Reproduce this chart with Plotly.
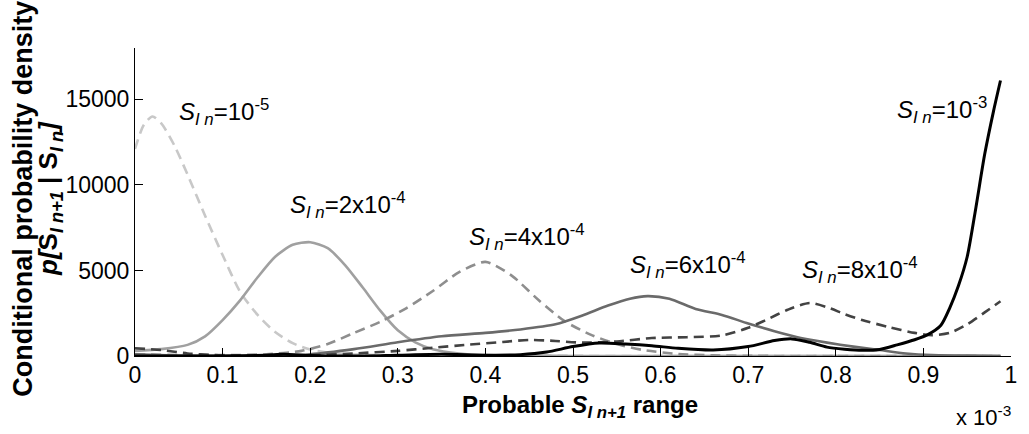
import plotly.graph_objects as go

# x values are in units of 1e-3 (see the "x 10^-3" axis multiplier)
x_1e5 = [0, 0.01, 0.02, 0.03, 0.045, 0.06, 0.08, 0.1, 0.12, 0.14, 0.16, 0.18, 0.2, 0.22, 0.25, 0.3,
         0.4, 0.5, 0.6, 0.7, 0.8, 0.9, 0.988]
y_1e5 = [12100, 13500, 14000, 13600, 12300, 10600, 8200, 5900, 3750, 2400, 1400, 750, 380, 200, 90, 30,
         10, 5, 0, 0, 0, 0, 0]

x_2e4 = [0, 0.03, 0.06, 0.08, 0.1, 0.12, 0.14, 0.16, 0.18, 0.2, 0.22, 0.24, 0.26, 0.28, 0.3, 0.32,
         0.34, 0.37, 0.4, 0.45, 0.5, 0.6, 0.7, 0.8, 0.9, 0.988]
y_2e4 = [300, 400, 650, 1150, 2100, 3250, 4600, 5800, 6500, 6650, 6300, 5300, 4000, 2650, 1500, 800,
         400, 150, 50, 20, 0, 0, 0, 0, 0, 0]

x_4e4 = [0, 0.05, 0.1, 0.15, 0.19, 0.22, 0.25, 0.28, 0.31, 0.34, 0.37, 0.4, 0.43, 0.46, 0.49, 0.52,
         0.55, 0.58, 0.62, 0.66, 0.7, 0.8, 0.9, 0.988]
y_4e4 = [100, 60, 50, 100, 300, 700, 1350, 2000, 2800, 3800, 4900, 5500, 4700, 3300, 2050, 1250,
         700, 350, 120, 40, 10, 0, 0, 0]

x_6e4 = [0, 0.05, 0.1, 0.15, 0.2, 0.25, 0.3, 0.35, 0.4, 0.44, 0.48, 0.51, 0.54, 0.565, 0.585, 0.61,
         0.64, 0.67, 0.7, 0.73, 0.76, 0.79, 0.82, 0.85, 0.88, 0.91, 0.95, 0.988]
y_6e4 = [100, 30, 10, 20, 100, 400, 800, 1150, 1350, 1550, 1850, 2350, 2950, 3350, 3500, 3350,
         2750, 2400, 1900, 1450, 1050, 780, 550, 350, 150, 50, 20, 0]

x_8e4 = [0, 0.03, 0.06, 0.09, 0.12, 0.16, 0.2, 0.25, 0.3, 0.34, 0.38, 0.42, 0.45, 0.48, 0.51, 0.55,
         0.59, 0.63, 0.67, 0.7, 0.72, 0.745, 0.77, 0.79, 0.81, 0.83, 0.86, 0.89, 0.91, 0.93, 0.95,
         0.97, 0.988]
y_8e4 = [450, 350, 150, 50, 20, 20, 50, 150, 300, 480, 660, 820, 940, 880, 780, 850,
         1050, 1100, 1200, 1650, 2100, 2700, 3100, 2850, 2450, 2100, 1700, 1350, 1220, 1350, 1850,
         2550, 3200]

x_1e3 = [0, 0.05, 0.1, 0.15, 0.17, 0.2, 0.25, 0.3, 0.35, 0.4, 0.44, 0.47, 0.5, 0.53, 0.56, 0.59,
         0.62, 0.66, 0.7, 0.73, 0.75, 0.77, 0.79, 0.81, 0.83, 0.85, 0.87, 0.89, 0.905, 0.92, 0.93,
         0.94, 0.95, 0.96, 0.97, 0.98, 0.988]
y_1e3 = [0, 0, 0, 50, 100, 30, 0, 50, 100, 50, 80, 230, 550, 760, 700, 600,
         450, 350, 550, 900, 1000, 800, 520, 400, 330, 380, 650, 950, 1250, 1800, 2800,
         4100, 5800, 8700, 11800, 14300, 16100]

x_ticks = [0, 0.1, 0.2, 0.3, 0.4, 0.5, 0.6, 0.7, 0.8, 0.9, 1]
x_tick_text = ["0", "0.1", "0.2", "0.3", "0.4", "0.5", "0.6", "0.7", "0.8", "0.9", "1"]
y_ticks = [0, 5000, 10000, 15000]

labels = [
    ("<i>S</i><sub><i>I n</i></sub>=10<sup>-5</sup>", 0.048, 14270),
    ("<i>S</i><sub><i>I n</i></sub>=2x10<sup>-4</sup>", 0.175, 8830),
    ("<i>S</i><sub><i>I n</i></sub>=4x10<sup>-4</sup>", 0.379, 6960),
    ("<i>S</i><sub><i>I n</i></sub>=6x10<sup>-4</sup>", 0.563, 5320),
    ("<i>S</i><sub><i>I n</i></sub>=8x10<sup>-4</sup>", 0.759, 5030),
    ("<i>S</i><sub><i>I n</i></sub>=10<sup>-3</sup>", 0.868, 14390),
]

FONT = "Liberation Sans, Arial, sans-serif"

series = [
    (x_1e5, y_1e5, "#c8c8c8", 2.6, "10px,6px"),
    (x_2e4, y_2e4, "#a0a0a0", 2.6, "solid"),
    (x_4e4, y_4e4, "#8e8e8e", 2.6, "10px,6px"),
    (x_6e4, y_6e4, "#6a6a6a", 2.6, "solid"),
    (x_8e4, y_8e4, "#424242", 2.6, "10px,6px"),
    (x_1e3, y_1e3, "#000000", 3.0, "solid"),
]

fig = go.Figure()
for xs, ys, color, width, dash in series:
    fig.add_trace(go.Scatter(
        x=xs, y=ys, mode="lines",
        line=dict(color=color, width=width, dash=dash, shape="spline", smoothing=0.7),
        showlegend=False, hoverinfo="skip",
    ))

for text, lx, ly in labels:
    fig.add_annotation(x=lx, y=ly, xref="x", yref="y", text=text, showarrow=False,
                       xanchor="left", yanchor="middle",
                       font=dict(family=FONT, size=24, color="black"))

# y-axis title, two stacked rotated lines
fig.add_annotation(x=-0.128, y=0.51, xref="paper", yref="paper", textangle=-90,
                   text="<b>Conditional probability density</b>", showarrow=False,
                   xanchor="center", yanchor="middle",
                   font=dict(family=FONT, size=27, color="black"))
fig.add_annotation(x=-0.097, y=0.51, xref="paper", yref="paper", textangle=-90,
                   text="<b><i>p[</i>S<sub><i>I n+1</i></sub> | S<sub><i>I n</i></sub><i>]</i></b>",
                   showarrow=False, xanchor="center", yanchor="middle",
                   font=dict(family=FONT, size=26, color="black"))

# x-axis title
fig.add_annotation(x=0.508, y=-0.165, xref="paper", yref="paper",
                   text="<b>Probable <i>S</i><sub><i>I n+1</i></sub> range</b>",
                   showarrow=False, xanchor="center", yanchor="middle",
                   font=dict(family=FONT, size=24, color="black"))

# axis multiplier
fig.add_annotation(x=1.002, y=-0.195, xref="paper", yref="paper",
                   text="x 10<sup>-3</sup>", showarrow=False,
                   xanchor="right", yanchor="middle",
                   font=dict(family=FONT, size=22, color="black"))

fig.update_layout(
    width=1029, height=434,
    margin=dict(l=135, r=12, t=48, b=78),
    paper_bgcolor="white", plot_bgcolor="white",
    font=dict(family=FONT, size=23, color="black"),
    xaxis=dict(range=[0, 1], tickvals=x_ticks, ticktext=x_tick_text,
               showgrid=False, zeroline=False, showline=True, linecolor="black", linewidth=1,
               ticks="inside", ticklen=8, tickcolor="black", ticklabelstandoff=-2,
               tickfont=dict(family=FONT, size=23, color="black")),
    yaxis=dict(range=[0, 18000], tickvals=y_ticks, tickformat="d",
               showgrid=False, zeroline=False, showline=True, linecolor="black", linewidth=1,
               ticks="inside", ticklen=8, tickcolor="black",
               tickfont=dict(family=FONT, size=23, color="black")),
)

fig.write_html("out.html")
